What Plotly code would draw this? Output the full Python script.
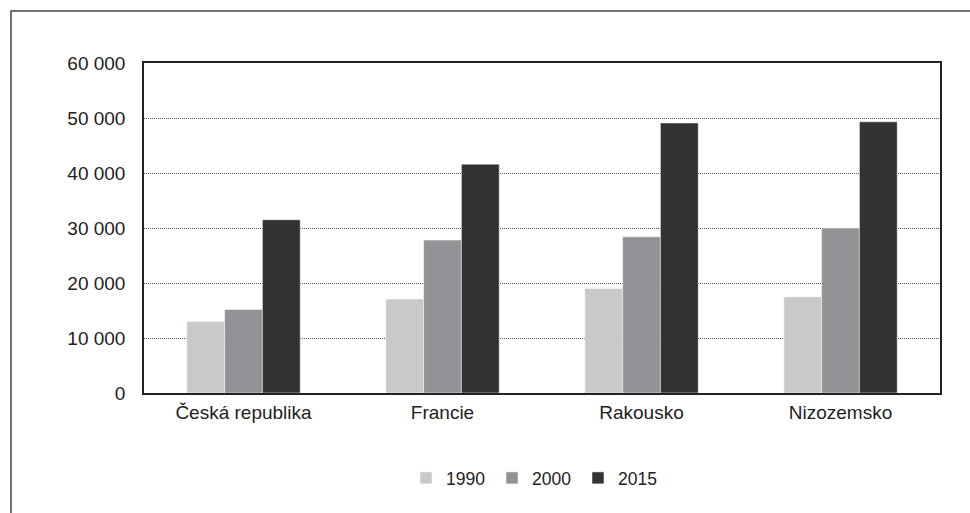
import plotly.graph_objects as go

categories = ["Česká republika", "Francie", "Rakousko", "Nizozemsko"]
years = ["1990", "2000", "2015"]
values_1990 = [13000, 17100, 19000, 17500]
values_2000 = [15200, 27800, 28400, 30000]
values_2015 = [31500, 41600, 49100, 49300]
colors = ["#c8c9cb", "#929396", "#333132"]
tick_vals = [0, 10000, 20000, 30000, 40000, 50000, 60000]
tick_text = ["0", "10 000", "20 000", "30 000", "40 000", "50 000", "60 000"]

fig = go.Figure()
for name, vals, col in zip(years, [values_1990, values_2000, values_2015], colors):
    fig.add_trace(go.Bar(x=categories, y=vals, name=name,
                         marker=dict(color=col, line=dict(color="white", width=0.5))))

W, H = 970, 513
L, R, T, B = 144, 30, 63, 120
pw, ph = W - L - R, H - T - B

fig.update_layout(
    width=W, height=H,
    margin=dict(l=L, r=R, t=T, b=B),
    paper_bgcolor="white", plot_bgcolor="white",
    barmode="group", bargap=0.43, bargroupgap=0,
    font=dict(family="Liberation Sans, Arial, sans-serif", size=19, color="#222"),
    showlegend=True,
    legend=dict(orientation="h", x=(406 - L) / pw, xanchor="left",
                y=(393 - 478) / ph, yanchor="middle",
                font=dict(size=17.5), entrywidth=41, itemwidth=30,
                bgcolor="rgba(0,0,0,0)"),
    xaxis=dict(showline=True, linecolor="#222", linewidth=1.5, mirror=True,
               ticks="", showgrid=False, ticklabelstandoff=1),
    yaxis=dict(range=[0, 60000], tickvals=tick_vals, ticktext=tick_text,
               showline=True, linecolor="#222", linewidth=1.5, mirror=True,
               showgrid=True, gridcolor="#555", griddash="1px,1px", gridwidth=1,
               zeroline=False, ticks="", ticklabelstandoff=13),
    shapes=[dict(type="rect", xref="paper", yref="paper",
                 x0=(11 - L) / pw, x1=(1000 - L) / pw,
                 y0=-0.6, y1=1 + (T - 11) / ph,
                 line=dict(color="#444", width=1.5), layer="below")],
)

fig.write_html("out.html", config={"displayModeBar": False},
               post_script="document.body.style.margin='0';document.body.style.overflow='hidden';")
